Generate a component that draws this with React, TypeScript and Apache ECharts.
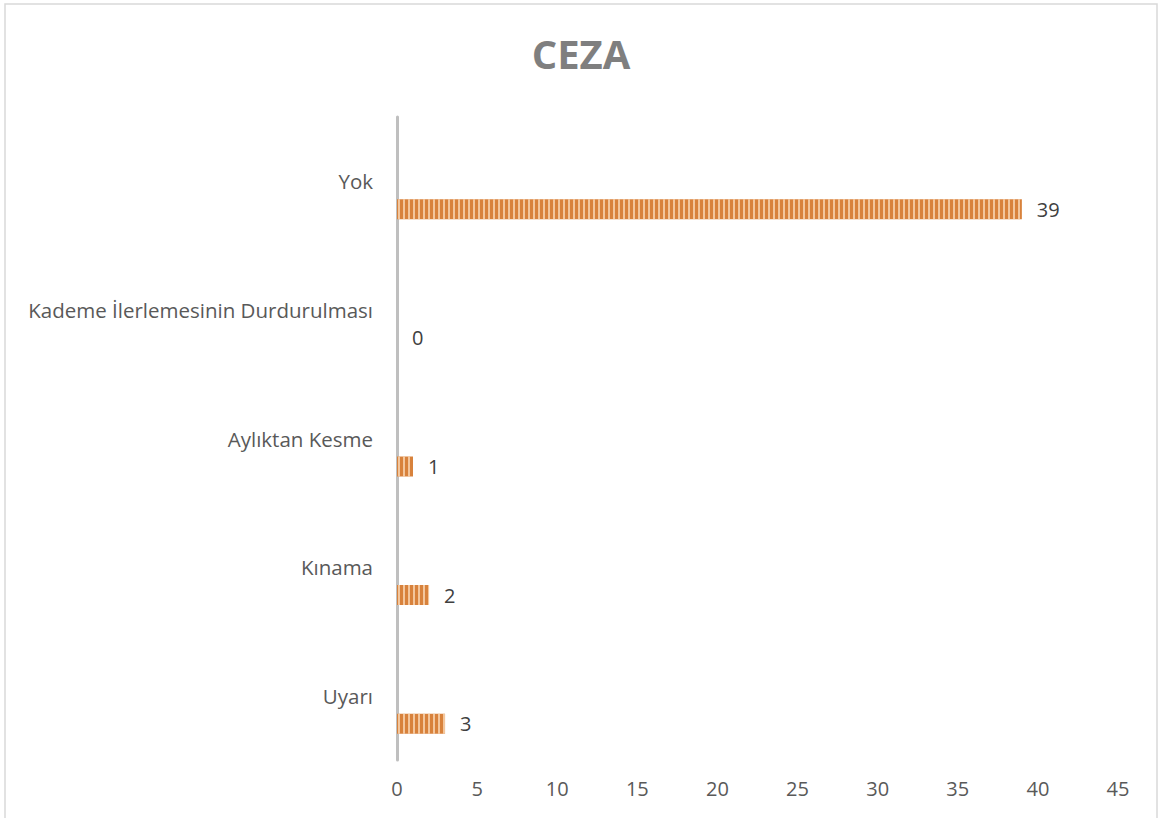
import React, { useEffect, useRef } from "react";
import * as echarts from "echarts";

const categories = ["Uyarı", "Kınama", "Aylıktan Kesme", "Kademe İlerlemesinin Durdurulması", "Yok"];
const values = [3, 2, 1, 0, 39];
const emptyValues = [null, null, null, null, null];
const xTicks = { min: 0, max: 45, interval: 5 };
const title = "CEZA";

export default function App() {
  const ref = useRef<HTMLDivElement>(null);
  useEffect(() => {
    const chart = echarts.init(ref.current!, undefined, { renderer: "svg" });
    chart.setOption({
      animation: false,
      backgroundColor: "#ffffff",
      title: {
        text: title,
        left: "center",
        top: 28,
        textStyle: { fontFamily: "Open Sans", fontWeight: "bold", fontSize: 40, color: "#7f7f7f" },
      },
      graphic: [
        {
          type: "rect",
          shape: { x: 5, y: 4, width: 1152, height: 840 },
          style: { fill: "none", stroke: "#d9d9d9", lineWidth: 1.5 },
          silent: true,
        },
      ],
      grid: { left: 397, right: 44, top: 117, bottom: 58, containLabel: false },
      xAxis: {
        type: "value",
        min: xTicks.min,
        max: xTicks.max,
        interval: xTicks.interval,
        axisLine: { show: false },
        axisTick: { show: false },
        splitLine: { show: false },
        axisLabel: { color: "#595959", fontSize: 20, fontFamily: "Open Sans", margin: 18 },
      },
      yAxis: {
        type: "category",
        data: categories,
        axisLine: { show: true, lineStyle: { color: "#bfbfbf", width: 3 } },
        axisTick: { show: false },
        axisLabel: { color: "#595959", fontSize: 20.5, fontFamily: "Open Sans", margin: 24 },
      },
      series: [
        {
          type: "bar",
          data: emptyValues,
          barWidth: 20,
          barGap: "180%",
        },
        {
          type: "bar",
          data: values,
          barWidth: 20,
          barGap: "180%",
          itemStyle: {
            color: "#d8823c",
            decal: {
              color: "rgba(250,215,180,0.8)",
              dashArrayX: [1, 0],
              dashArrayY: [1.5, 2.4],
              rotation: Math.PI / 2,
              symbolSize: 1,
            },
          },
          label: {
            show: true,
            position: "right",
            distance: 15,
            color: "#404040",
            fontSize: 20,
            fontFamily: "Open Sans",
          },
        },
      ],
    });
    return () => chart.dispose();
  }, []);
  return <div ref={ref} style={{ position: "absolute", left: 0, top: 0, width: 1162, height: 818 }} />;
}
